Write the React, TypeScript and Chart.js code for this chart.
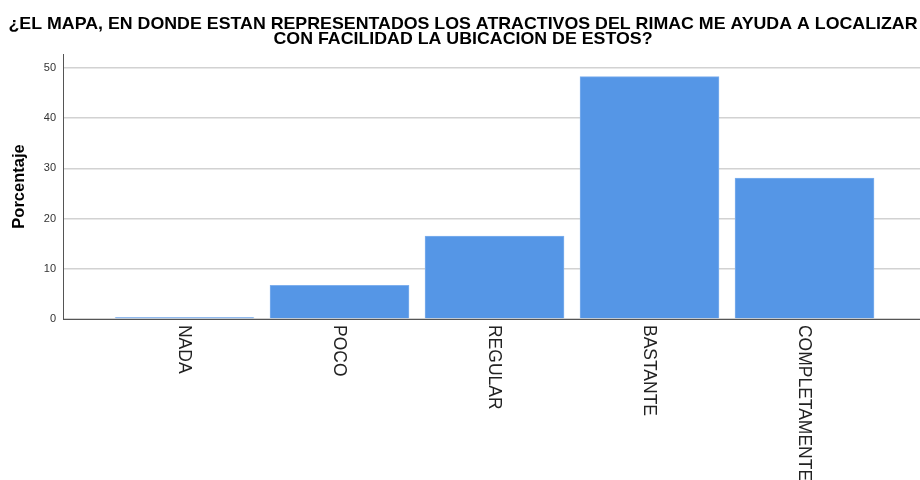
import React, { useEffect, useRef } from "react";
import { Chart, registerables } from "chart.js";

Chart.register(...registerables);

const TITLE_LINES = [
  "¿EL MAPA, EN DONDE ESTAN REPRESENTADOS LOS ATRACTIVOS DEL RIMAC ME AYUDA A LOCALIZAR",
  "CON FACILIDAD LA UBICACION DE ESTOS?",
];
const CATEGORIES = ["NADA", "POCO", "REGULAR", "BASTANTE", "COMPLETAMENTE"];
const PERCENTAGES = [0.3, 6.7, 16.5, 48.3, 28.1];
const Y_TICKS = [0, 10, 20, 30, 40, 50];
const Y_TITLE = "Porcentaje";

const FONT = "'Liberation Sans', Arial, sans-serif";

const textPlugin = {
  id: "customText",
  afterDraw(chart: any) {
    const ctx = chart.ctx as CanvasRenderingContext2D;
    // Title
    ctx.save();
    ctx.fillStyle = "#000";
    ctx.font = `bold 17px ${FONT}`;
    ctx.textAlign = "center";
    ctx.textBaseline = "alphabetic";
    const w1 = ctx.measureText(TITLE_LINES[0]).width;
    const sx = 909 / w1;
    const baselines = [28.5, 44];
    TITLE_LINES.forEach((line, i) => {
      ctx.save();
      ctx.translate(463, baselines[i]);
      ctx.scale(sx, 1);
      ctx.fillText(line, 0, 0);
      ctx.restore();
    });
    ctx.restore();

    // X labels rotated clockwise
    const xs = chart.scales.x;
    ctx.save();
    ctx.fillStyle = "#222";
    ctx.font = `19px ${FONT}`;
    ctx.textAlign = "left";
    ctx.textBaseline = "middle";
    CATEGORIES.forEach((label, i) => {
      const px = xs.getPixelForValue(i);
      ctx.save();
      ctx.translate(px, chart.chartArea.bottom + 6);
      ctx.rotate(Math.PI / 2);
      ctx.scale(0.92, 1);
      ctx.fillText(label, 0, 0);
      ctx.restore();
    });
    ctx.restore();
  },
};

export default function App() {
  const ref = useRef<HTMLCanvasElement | null>(null);
  useEffect(() => {
    if (!ref.current) return;
    const chart = new Chart(ref.current, {
      type: "bar",
      data: {
        datasets: [
          {
            data: PERCENTAGES.map((v, i) => ({ x: i, y: v })),
            backgroundColor: "#5596E6",
            borderColor: "#7FB0EE",
            borderWidth: 1,
            barThickness: 139,
          },
        ],
      },
      options: {
        animation: false,
        responsive: false,
        maintainAspectRatio: false,
        devicePixelRatio: 1,
        layout: { padding: { top: 54, bottom: 161, left: 0, right: 0 } },
        plugins: {
          legend: { display: false },
          tooltip: { enabled: false },
          title: { display: false },
        },
        scales: {
          x: {
            type: "linear",
            min: -0.784,
            max: 4.745,
            offset: false,
            grid: { display: false, drawTicks: false },
            border: { display: true, color: "#555", width: 1 },
            ticks: { display: false },
            afterFit: (s: any) => {
              s.height = 0;
            },
          },
          y: {
            min: 0,
            max: 52.8,
            afterBuildTicks: (s: any) => {
              s.ticks = Y_TICKS.map((v) => ({ value: v }));
            },
            afterFit: (s: any) => {
              s.width = 63;
            },
            grid: { color: "#d2d2d2", lineWidth: 1.5, drawTicks: false },
            border: { display: true, color: "#555", width: 1 },
            ticks: {
              padding: 7,
              color: "#333",
              font: { family: FONT, size: 11 },
            },
            title: {
              display: true,
              text: Y_TITLE,
              color: "#000",
              font: { family: FONT, size: 16.5, weight: "bold" },
              padding: { top: 10, bottom: 0 },
            },
          },
        },
      },
      plugins: [textPlugin],
    } as any);
    return () => chart.destroy();
  }, []);
  return (
    <div style={{ position: "fixed", left: 0, top: 0, width: 920, height: 480, background: "#fff" }}>
      <canvas ref={ref} width={920} height={480} style={{ width: 920, height: 480 }} />
    </div>
  );
}
